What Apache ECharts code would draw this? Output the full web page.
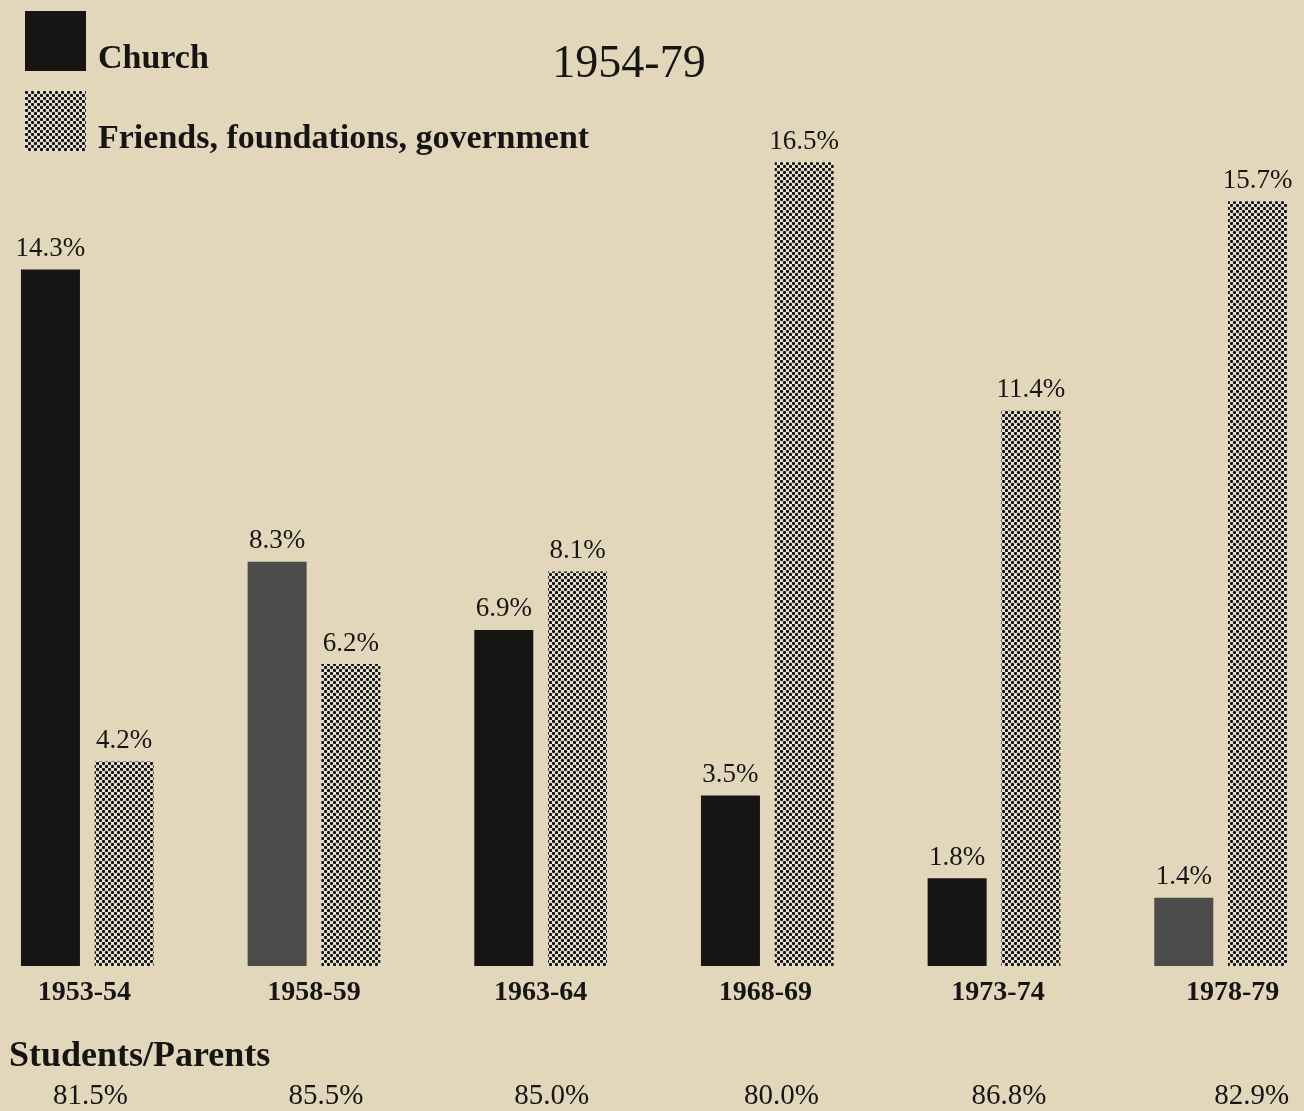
<!DOCTYPE html>
<html><head><meta charset="utf-8">
<script src="https://cdn.jsdelivr.net/npm/echarts@6/dist/echarts.min.js"></script>
<style>html,body{margin:0;padding:0;background:#e3d7bb}#chart{width:1304px;height:1111px}</style>
</head><body><div id="chart"></div>
<script>
// ---- data ----
const categories = ['1953-54', '1958-59', '1963-64', '1968-69', '1973-74', '1978-79'];
const church = [14.3, 8.3, 6.9, 3.5, 1.8, 1.4];
const friends = [4.2, 6.2, 8.1, 16.5, 11.4, 15.7];
const studentsParents = [81.5, 85.5, 85.0, 80.0, 86.8, 82.9];
const grayChurchYears = ['1958-59', '1978-79'];
const seriesNames = ['Church', 'Friends, foundations, government'];

// ---- styles ----
const INK = '#161514';
const GRAY = '#4b4b49';
const BG = '#e3d7bb';
const catNudge = [-3, 0, 0, -2, 4, 12];
const spNudge = [3, 12, 11, 14, 15, 31];

function dotPattern() {
  const c = document.createElement('canvas');
  c.width = 6; c.height = 6;
  const g = c.getContext('2d');
  g.fillStyle = '#ece5d3';
  g.fillRect(0, 0, 6, 6);
  g.fillStyle = '#121212';
  [[1.5, 1.5], [4.5, 4.5]].forEach(([x, y]) => {
    g.beginPath(); g.arc(x, y, 1.65, 0, Math.PI * 2); g.fill();
  });
  return c;
}
const pattern = { image: dotPattern(), repeat: 'repeat' };

const serif = 'Liberation Serif';
function richNudge(arr, base) {
  const r = {};
  arr.forEach((d, i) => {
    r['n' + i] = Object.assign({}, base, { padding: d >= 0 ? [0, 0, 0, 2 * d] : [0, -2 * d, 0, 0] });
  });
  return r;
}
const catBase = { fontFamily: serif, fontWeight: 'bold', fontSize: 28, color: INK };
const spBase = { fontFamily: serif, fontSize: 29, color: INK };

const chart = echarts.init(document.getElementById('chart'), null, { renderer: 'canvas' });
chart.setOption({
  backgroundColor: BG,
  animation: false,
  title: [
    { text: '1954-79', left: 624, top: 37, textAlign: 'center',
      textStyle: { fontFamily: serif, fontWeight: 'normal', fontSize: 46, color: INK } },
    { text: 'Students/Parents', left: 4, top: 1034,
      textStyle: { fontFamily: serif, fontWeight: 'bold', fontSize: 36, color: INK } }
  ],
  legend: {
    orient: 'vertical', left: 20, top: -1,
    itemWidth: 61, itemHeight: 60, itemGap: 6, icon: 'rect',
    data: seriesNames,
    formatter: name => '\n' + name,
    textStyle: { fontFamily: serif, fontWeight: 'bold', fontSize: 34, lineHeight: 37, color: INK, padding: [0, 0, 0, 7] }
  },
  grid: { left: -26, right: -30, top: 133, bottom: 145, outerBoundsMode: 'none' },
  xAxis: [
    { type: 'category', data: categories, axisLine: { show: false }, axisTick: { show: false },
      axisLabel: { margin: 13, formatter: (v, i) => `{n${i}|${v}}`, rich: richNudge(catNudge, catBase) } },
    { type: 'category', data: studentsParents.map(v => v.toFixed(1) + '%'), position: 'bottom', offset: 108,
      axisLine: { show: false }, axisTick: { show: false },
      axisLabel: { margin: 8, formatter: (v, i) => `{n${i}|${v}}`, rich: richNudge(spNudge, spBase) } }
  ],
  yAxis: { type: 'value', min: 0, max: 17.1, show: false, splitLine: { show: false } },
  series: [
    { name: seriesNames[0], type: 'bar', barWidth: 59, barGap: '25%',
      itemStyle: { color: INK },
      data: church.map((v, i) => grayChurchYears.includes(categories[i]) ? { value: v, itemStyle: { color: GRAY } } : v),
      label: { show: true, position: 'top', distance: 7, formatter: p => p.value.toFixed(1) + '%',
        fontFamily: serif, fontSize: 27, color: INK } },
    { name: seriesNames[1], type: 'bar', barWidth: 59,
      itemStyle: { color: pattern },
      data: friends,
      label: { show: true, position: 'top', distance: 7, formatter: p => p.value.toFixed(1) + '%',
        fontFamily: serif, fontSize: 27, color: INK } }
  ]
});
</script></body></html>
